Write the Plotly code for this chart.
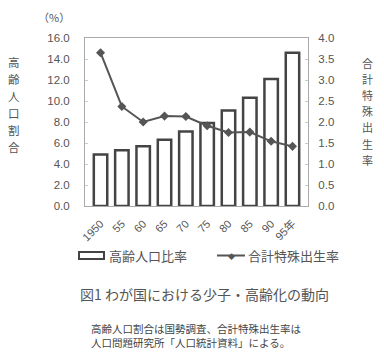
import plotly.graph_objects as go

years = ["1950", "55", "60", "65", "70", "75", "80", "85", "90", "95年"]
aged_ratio = [4.9, 5.3, 5.7, 6.3, 7.1, 7.9, 9.1, 10.3, 12.1, 14.6]
fertility = [3.65, 2.37, 2.00, 2.14, 2.13, 1.91, 1.75, 1.76, 1.54, 1.42]
left_ticks = [0, 2, 4, 6, 8, 10, 12, 14, 16]
right_ticks = [0, 0.5, 1.0, 1.5, 2.0, 2.5, 3.0, 3.5, 4.0]
left_title = "高齢人口割合"
right_title = "合計特殊出生率"

FONT = "Liberation Sans, Arial, Noto Sans CJK JP, sans-serif"
JP = "Noto Sans CJK JP, sans-serif"
TXT = "#555555"

# page body has an 8px default margin -> figure is 376x347 at offset (8,8)
OFF = 8
PL, PR, PT, PB = 85, 308, 38, 206  # plot area in page pixels
W, H = 384 - OFF, 355 - OFF


def px(x):
    return (x - PL) / (PR - PL)


def py(y):
    return (PB - y) / (PB - PT)


fig = go.Figure()
fig.add_trace(go.Bar(x=years, y=aged_ratio, name="高齢人口比率",
                     marker=dict(color="white", line=dict(color="#444444", width=2.5)),
                     yaxis="y"))
fig.add_trace(go.Scatter(x=years, y=fertility, name="合計特殊出生率", mode="lines+markers",
                         line=dict(color="#555555", width=2),
                         marker=dict(symbol="diamond", size=7, color="#555555"),
                         yaxis="y2"))

fig.update_layout(
    width=W, height=H,
    margin=dict(l=PL - OFF, r=384 - PR, t=PT - OFF, b=355 - PB),
    paper_bgcolor="white", plot_bgcolor="white",
    showlegend=False, bargap=0.37,
    font=dict(family=FONT, color=TXT, size=11),
    xaxis=dict(type="category", tickangle=-45, showline=True, linecolor="#aaaaaa",
               linewidth=1, mirror=True, ticks="", showgrid=False, ticklabelstandoff=6,
               tickfont=dict(size=11, family=FONT, color=TXT)),
    yaxis=dict(range=[0, 16], tickvals=left_ticks,
               ticktext=[f"{v:.1f}" for v in left_ticks],
               showgrid=False, showline=True, linecolor="#aaaaaa", linewidth=1,
               ticks="inside", ticklen=3, tickcolor="#cccccc", zeroline=False,
               ticklabelstandoff=12,
               tickfont=dict(size=11.5, color=TXT)),
    yaxis2=dict(range=[0, 4], tickvals=right_ticks,
                ticktext=[f"{v:.1f}" for v in right_ticks],
                overlaying="y", side="right", showgrid=False, showline=True,
                linecolor="#aaaaaa", linewidth=1, ticks="inside", ticklen=3,
                tickcolor="#cccccc", zeroline=False, ticklabelstandoff=7,
                tickfont=dict(size=11.5, color=TXT)),
)

# vertical axis titles, one character per annotation
for i, ch in enumerate(left_title):
    fig.add_annotation(xref="paper", yref="paper", x=px(14), y=py(62 + i * 16.9),
                       xanchor="center", yanchor="middle", text=ch, showarrow=False,
                       borderpad=0, font=dict(family=JP, size=11.5, color=TXT))
for i, ch in enumerate(right_title):
    fig.add_annotation(xref="paper", yref="paper", x=px(367), y=py(63 + i * 16.1),
                       xanchor="center", yanchor="middle", text=ch, showarrow=False,
                       borderpad=0, font=dict(family=JP, size=11, color=TXT))
fig.add_annotation(xref="paper", yref="paper", x=px(54), y=py(17), xanchor="center",
                   yanchor="middle", text="（%）", showarrow=False,
                   font=dict(family=JP, size=11, color=TXT))

# custom legend
fig.add_shape(type="rect", xref="paper", yref="paper",
              x0=px(79), x1=px(104), y0=py(259), y1=py(252),
              line=dict(color="#444444", width=2), fillcolor="white")
fig.add_annotation(xref="paper", yref="paper", x=px(107), y=py(255.5),
                   xanchor="left", yanchor="middle", text="高齢人口比率", showarrow=False,
                   font=dict(family=JP, size=13, color=TXT))
fig.add_shape(type="line", xref="paper", yref="paper",
              x0=px(217), x1=px(245), y0=py(255.5), y1=py(255.5),
              line=dict(color="#555555", width=2))
fig.add_annotation(xref="paper", yref="paper", x=px(231), y=py(255.5),
                   xanchor="center", yanchor="middle", text="◆", showarrow=False,
                   font=dict(family=JP, size=7, color="#555555"))
fig.add_annotation(xref="paper", yref="paper", x=px(246), y=py(255.5),
                   xanchor="left", yanchor="middle", text="合計特殊出生率", showarrow=False,
                   font=dict(family=JP, size=13, color=TXT))

# caption
fig.add_annotation(xref="paper", yref="paper", x=px(204), y=py(294),
                   xanchor="center", yanchor="middle",
                   text="図1 わが国における少子・高齢化の動向", showarrow=False,
                   font=dict(family=JP, size=14, color=TXT))
fig.add_annotation(xref="paper", yref="paper", x=px(89), y=py(335),
                   xanchor="left", yanchor="middle",
                   text="高齢人口割合は国勢調査、合計特殊出生率は<br>人口問題研究所「人口統計資料」による。",
                   showarrow=False, align="left",
                   font=dict(family=JP, size=10.5, color="#444444"))

fig.write_html("out.html")
